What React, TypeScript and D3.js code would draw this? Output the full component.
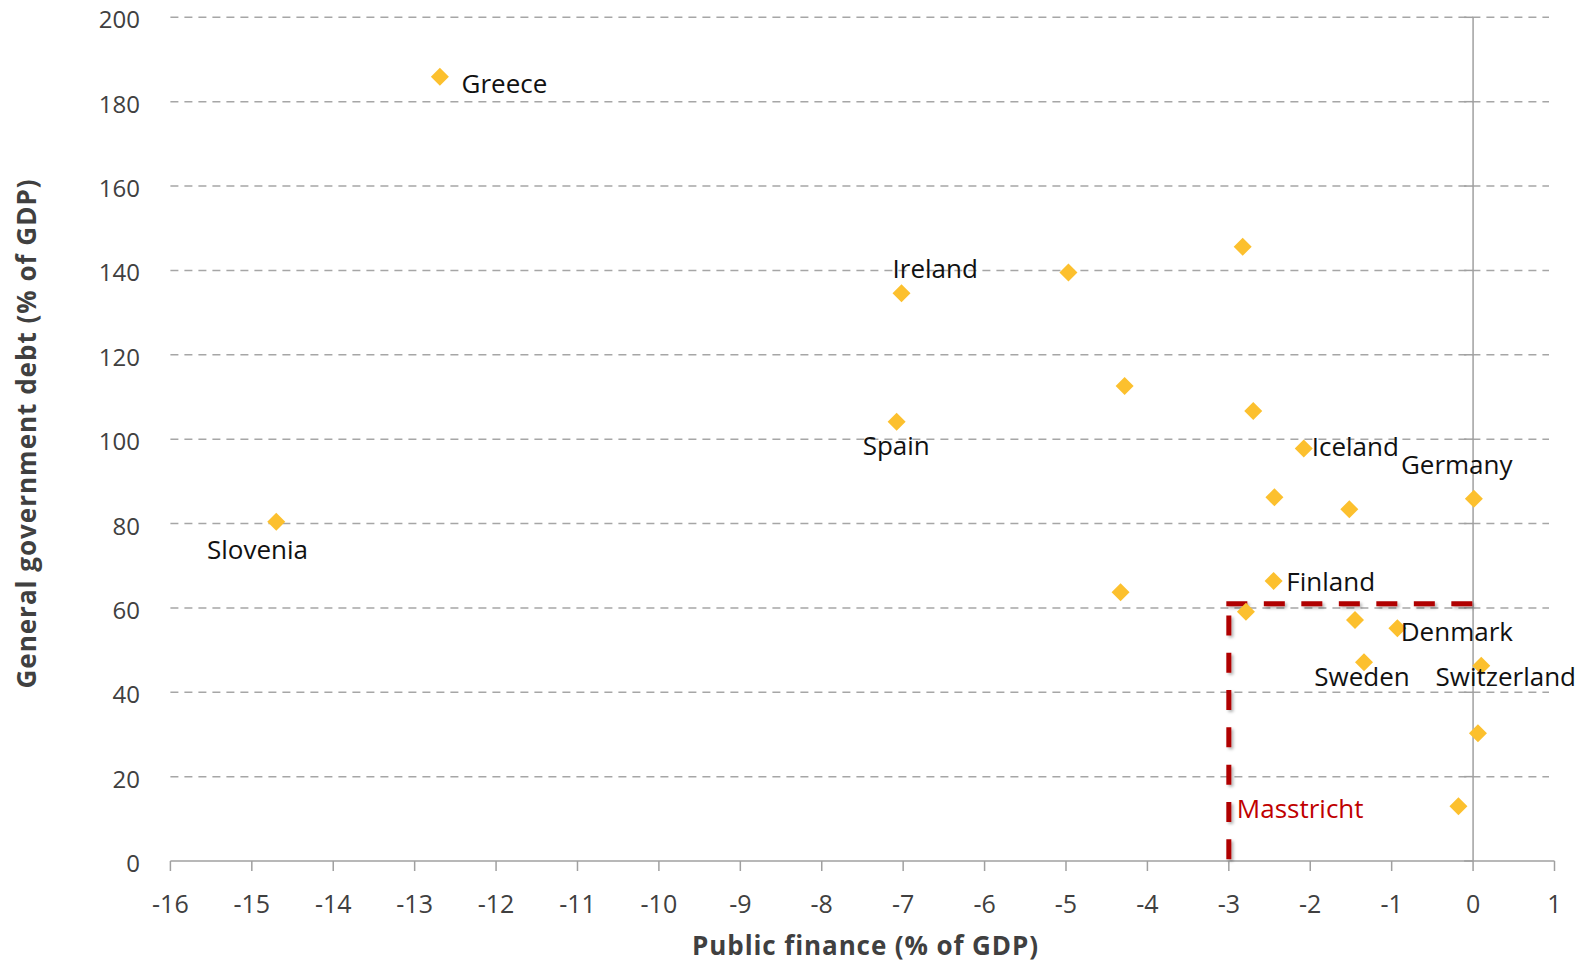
import React, { useEffect } from "react";
import * as d3 from "d3";

// ---- data ----
const countries = ["Greece", "Ireland", "", "", "", "Spain", "", "Iceland", "", "", "Germany", "Slovenia", "", "Finland", "", "", "Denmark", "Sweden", "Switzerland", "", ""];
const balance = [-12.69, -7.02, -4.97, -2.83, -4.28, -7.08, -2.70, -2.08, -2.44, -1.52, 0.01, -14.70, -4.33, -2.45, -2.79, -1.45, -0.93, -1.34, 0.10, 0.06, -0.18];
const debt = [185.9, 134.6, 139.5, 145.6, 112.6, 104.1, 106.7, 97.8, 86.2, 83.4, 85.9, 80.4, 63.7, 66.4, 59.1, 57.1, 55.2, 47.1, 46.3, 30.3, 13.0];
const xTicks = [-16, -15, -14, -13, -12, -11, -10, -9, -8, -7, -6, -5, -4, -3, -2, -1, 0, 1];
const yTicks = [0, 20, 40, 60, 80, 100, 120, 140, 160, 180, 200];
const maastrichtDeficit = -3;
const maastrichtDebt = 61;
const maastrichtLabel = "Masstricht";
const xTitle = "Public finance (% of GDP)";
const yTitle = "General government debt (% of GDP)";

// label placement offsets (px from marker to text start / baseline)
const labelOffsets: Record<string, [number, number]> = {
  Greece: [21.7, 16],
  Ireland: [-9, -15.3],
  Spain: [-34, 33],
  Iceland: [8, 7.7],
  Germany: [-73, -24.7],
  Slovenia: [-69.3, 37.6],
  Finland: [12.7, 9.7],
  Denmark: [3.4, 12.4],
  Sweden: [-49.7, 23.7],
  Switzerland: [-45.7, 20.3],
};

const W = 1587;
const H = 965;
const FONT = "'Open Sans', 'Noto Sans', sans-serif";

export default function App() {
  useEffect(() => {
    document.body.style.margin = "0";
  }, []);

  const x = d3.scaleLinear().domain([-16, 1]).range([170.4, 1554.5]);
  const y = d3.scaleLinear().domain([0, 200]).range([861, 17.3]);
  const r = 9;
  const diamond = (cx: number, cy: number) =>
    `M${cx},${cy - r}L${cx + r},${cy}L${cx},${cy + r}L${cx - r},${cy}Z`;

  const hLine = d3.line()([
    [x(maastrichtDeficit) - 2.5, y(maastrichtDebt)],
    [x(0), y(maastrichtDebt)],
  ]) as string;
  const vLine = d3.line()([
    [x(maastrichtDeficit), y(maastrichtDebt) + 2.5],
    [x(maastrichtDeficit), y(0)],
  ]) as string;

  return (
    <svg width={W} height={H} style={{ display: "block", background: "#fff" }}>
      <defs>
        <filter id="shadow" x="-20%" y="-20%" width="140%" height="140%">
          <feDropShadow dx="2" dy="2" stdDeviation="1.5" floodColor="#000" floodOpacity="0.3" />
        </filter>
      </defs>
      {/* gridlines */}
      {yTicks.filter((t) => t !== 0).map((t) => (
        <line key={"g" + t} x1={x(-16)} x2={1549} y1={y(t)} y2={y(t)}
          stroke="#a6a6a6" strokeWidth={1.5} strokeDasharray="8 6" />
      ))}
      {/* vertical axis at x = 0 */}
      <line x1={x(0)} x2={x(0)} y1={y(200)} y2={y(0)} stroke="#a0a0a0" strokeWidth={1.5} />
      {yTicks.map((t) => (
        <line key={"yt" + t} x1={x(0) - 9} x2={x(0)} y1={y(t)} y2={y(t)} stroke="#a0a0a0" strokeWidth={1.5} />
      ))}
      {/* x axis */}
      <line x1={x(-16)} x2={x(1)} y1={y(0)} y2={y(0)} stroke="#a0a0a0" strokeWidth={1.5} />
      {xTicks.map((t) => (
        <line key={"xt" + t} x1={x(t)} x2={x(t)} y1={y(0)} y2={y(0) + 10} stroke="#a0a0a0" strokeWidth={1.5} />
      ))}
      {/* tick labels */}
      {yTicks.map((t) => (
        <text key={"yl" + t} x={140} y={y(t) + 11} textAnchor="end" fontFamily={FONT} fontSize={24} fill="#404040">
          {t}
        </text>
      ))}
      {xTicks.map((t) => (
        <text key={"xl" + t} x={x(t)} y={913} textAnchor="middle" fontFamily={FONT} fontSize={25} fill="#404040">
          {t}
        </text>
      ))}
      {/* axis titles */}
      <text x={(695 + 1036) / 2} y={955} textAnchor="middle" fontFamily={FONT} fontSize={26} fontWeight="bold" letterSpacing={0.9} fill="#404040">
        {xTitle}
      </text>
      <text transform={`translate(36,${(182 + 685) / 2}) rotate(-90)`} textAnchor="middle" fontFamily={FONT} fontSize={26} fontWeight="bold" letterSpacing={1} fill="#404040">
        {yTitle}
      </text>
      {/* Maastricht box */}
      <g filter="url(#shadow)">
        <path d={hLine} fill="none" stroke="#b00000" strokeWidth={5} strokeDasharray="21 16.5" />
        <path d={vLine} fill="none" stroke="#b00000" strokeWidth={5} strokeDasharray="20 17.3" strokeDashoffset={28} />
      </g>
      <text x={x(maastrichtDeficit) + 8} y={817.7} fontFamily={FONT} fontSize={26} fill="#c00000">
        {maastrichtLabel}
      </text>
      {/* points */}
      {balance.map((b, i) => (
        <path key={"p" + i} d={diamond(x(b), y(debt[i]))} fill="#fcc02e" />
      ))}
      {/* labels */}
      {countries.map((c, i) => {
        if (!c) return null;
        const [dx, dy] = labelOffsets[c];
        return (
          <text key={"l" + i} x={x(balance[i]) + dx} y={y(debt[i]) + dy} fontFamily={FONT} fontSize={26} fill="#111">
            {c}
          </text>
        );
      })}
    </svg>
  );
}
